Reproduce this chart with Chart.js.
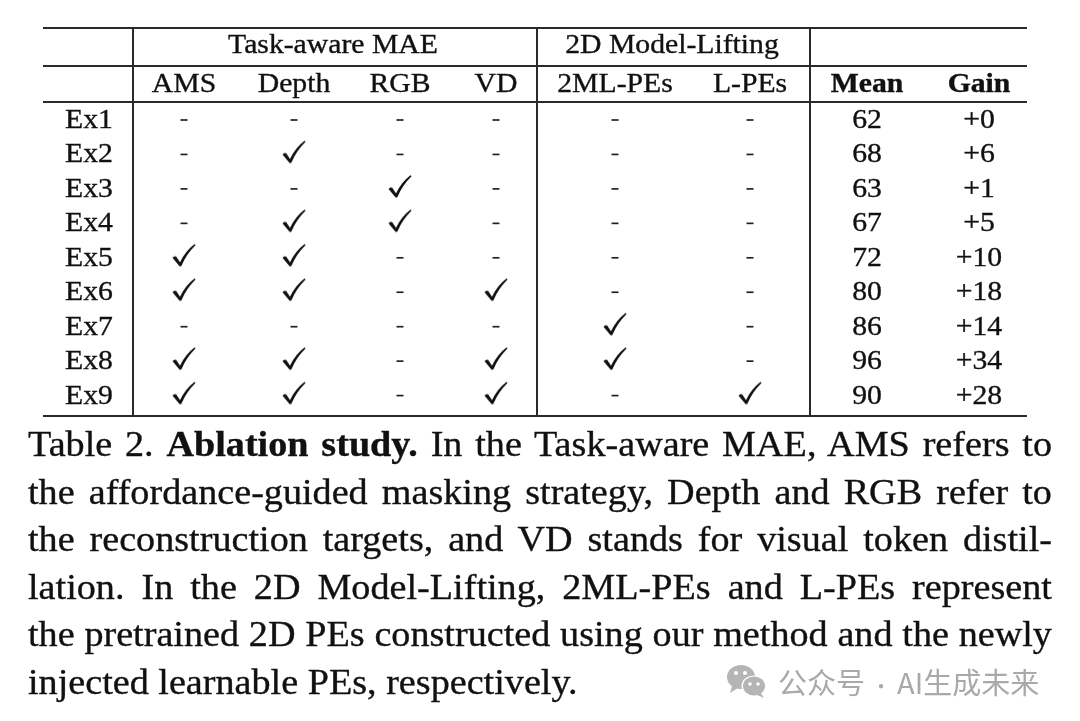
<!DOCTYPE html>
<html>
<head>
<meta charset="utf-8">
<script src="https://cdn.jsdelivr.net/npm/chart.js@4.4.0/dist/chart.umd.min.js"></script>
<style>
  html, body { margin: 0; padding: 0; background: #fff; }
  body { width: 1080px; height: 721px; position: relative; overflow: hidden; }
  #tabela { position: absolute; left: 0; top: 0; }
  .legenda {
    position: absolute; left: 28px; top: 421px; width: 966px;
    transform: scaleX(1.06); transform-origin: 0 0;
    font-family: "Liberation Serif", "Times New Roman", serif;
    font-size: 36px; line-height: 47.6px; color: #111;
    -webkit-text-stroke: 0.35px #111;
  }
  .legenda span { display: block; text-align: justify; text-align-last: justify; white-space: nowrap; }
  .legenda span.fim { text-align: left; text-align-last: left; }
  .marca {
    position: absolute; left: 726px; top: 661px; height: 40px;
    display: flex; align-items: center; gap: 10px;
    font-family: "Noto Sans CJK SC", sans-serif; font-size: 29px; color: #a9a9a9;
  }
  .marca small { font-size: 20px; padding: 0 6px; }
</style>
</head>
<body>
<canvas id="tabela" width="1080" height="430"></canvas>
<div class="legenda">
  <span>Table 2. <b>Ablation study.</b> In the Task-aware MAE, AMS refers to</span>
  <span>the affordance-guided masking strategy, Depth and RGB refer to</span>
  <span>the reconstruction targets, and VD stands for visual token distil-</span>
  <span>lation. In the 2D Model-Lifting, 2ML-PEs and L-PEs represent</span>
  <span>the pretrained 2D PEs constructed using our method and the newly</span>
  <span class="fim">injected learnable PEs, respectively.</span>
</div>
<div class="marca">
  <svg width="42" height="36" viewBox="0 0 42 36">
    <ellipse cx="15" cy="14" rx="14" ry="12" fill="#b5b5b5"/>
    <path d="M6 23 L4 30 L12 25 Z" fill="#b5b5b5"/>
    <circle cx="10" cy="10" r="2" fill="#fff"/>
    <circle cx="19" cy="10" r="2" fill="#fff"/>
    <ellipse cx="28" cy="23" rx="12.5" ry="10.5" fill="#fff"/>
    <ellipse cx="28" cy="23" rx="11" ry="9.5" fill="#b5b5b5"/>
    <path d="M35 30 L38 35 L31 32 Z" fill="#b5b5b5"/>
    <circle cx="24" cy="21" r="1.8" fill="#fff"/>
    <circle cx="32" cy="21" r="1.8" fill="#fff"/>
  </svg>
  <span>公众号<small>·</small>AI生成未来</span>
</div>
<script>
// dados da tabela
const experimentos = ['Ex1', 'Ex2', 'Ex3', 'Ex4', 'Ex5', 'Ex6', 'Ex7', 'Ex8', 'Ex9'];
const grupos = ['Task-aware MAE', '2D Model-Lifting'];
const colunas = ['AMS', 'Depth', 'RGB', 'VD', '2ML-PEs', 'L-PEs'];
const metricas = ['Mean', 'Gain'];
const ams   = [0, 0, 0, 0, 1, 1, 0, 1, 1];
const depth = [0, 1, 0, 1, 1, 1, 0, 1, 1];
const rgb   = [0, 0, 1, 1, 0, 0, 0, 0, 0];
const vd    = [0, 0, 0, 0, 0, 1, 0, 1, 1];
const mlPEs = [0, 0, 0, 0, 0, 0, 1, 1, 0];
const lPEs  = [0, 0, 0, 0, 0, 0, 0, 0, 1];
const mean  = [62, 68, 63, 67, 72, 80, 86, 96, 90];
const gain  = [0, 6, 1, 5, 10, 18, 14, 34, 28];
const marcadores = [ams, depth, rgb, vd, mlPEs, lPEs];

// layout (unidades das escalas)
const xRotulo = 89;
const xColunas = [184, 294, 400, 496, 615, 750];
const xMetricas = [867, 979];
const xGrupos = [333, 672];
const yGrupos = 53, yCabecalho = 92;
const yPrimeira = 128, passo = 34.45;
const regrasH = [28, 66, 102, 416];
const regrasV = [133, 537, 810];
const xInicio = 43, xFim = 1027;

function baseLinha(i) { return yPrimeira + i * passo; }

// desenho do check (estilo \checkmark)
function criarCheck() {
  const c = document.createElement('canvas');
  c.width = 26; c.height = 30;
  const g = c.getContext('2d');
  g.fillStyle = '#111';
  g.beginPath();
  g.moveTo(1.5, 15);
  g.quadraticCurveTo(3, 12.8, 5.2, 13.8);
  g.lineTo(9, 19.5);
  g.quadraticCurveTo(14, 8.5, 23.5, 1.2);
  g.lineTo(24.6, 2.2);
  g.quadraticCurveTo(15.5, 11, 10.2, 23.4);
  g.lineTo(8.6, 23.4);
  g.closePath();
  g.fill();
  return c;
}

document.addEventListener("DOMContentLoaded", function () {
  const canvas = document.getElementById("tabela");
  if (!canvas) return;
  const check = criarCheck();

  const datasets = marcadores.map(function (valores, c) {
    return {
      label: colunas[c],
      data: valores.map(function (v, i) { return { x: xColunas[c], y: baseLinha(i) - 8 }; }),
      pointStyle: function (ctx) { return valores[ctx.dataIndex] ? check : 'line'; },
      pointRadius: 3.5,
      borderWidth: 1.7,
      borderColor: '#222',
      backgroundColor: '#222'
    };
  });

  const textoTabela = {
    id: 'textoTabela',
    afterDatasetsDraw: function (chart) {
      const ctx = chart.ctx;
      const sx = chart.scales.x, sy = chart.scales.y;
      ctx.save();
      ctx.strokeStyle = '#2a2a2a';
      ctx.lineWidth = 2;
      regrasH.forEach(function (y) {
        ctx.beginPath();
        ctx.moveTo(sx.getPixelForValue(xInicio), sy.getPixelForValue(y));
        ctx.lineTo(sx.getPixelForValue(xFim), sy.getPixelForValue(y));
        ctx.stroke();
      });
      regrasV.forEach(function (x) {
        ctx.beginPath();
        ctx.moveTo(sx.getPixelForValue(x), sy.getPixelForValue(regrasH[0]));
        ctx.lineTo(sx.getPixelForValue(x), sy.getPixelForValue(regrasH[3]));
        ctx.stroke();
      });

      ctx.fillStyle = '#111';
      ctx.strokeStyle = '#111';
      ctx.lineWidth = 0.35;
      ctx.textAlign = 'center';
      ctx.textBaseline = 'alphabetic';
      function escrever(txt, x, y, negrito) {
        ctx.save();
        ctx.font = (negrito ? 'bold ' : '') + '27.5px "Liberation Serif", "Times New Roman", serif';
        ctx.translate(sx.getPixelForValue(x), sy.getPixelForValue(y));
        ctx.scale(1.08, 1);
        ctx.fillText(txt, 0, 0);
        ctx.strokeText(txt, 0, 0);
        ctx.restore();
      }
      grupos.forEach(function (g, k) { escrever(g, xGrupos[k], yGrupos); });
      colunas.forEach(function (c, k) { escrever(c, xColunas[k], yCabecalho); });
      metricas.forEach(function (m, k) { escrever(m, xMetricas[k], yCabecalho, true); });
      experimentos.forEach(function (e, i) {
        escrever(e, xRotulo, baseLinha(i));
        escrever(String(mean[i]), xMetricas[0], baseLinha(i));
        escrever('+' + gain[i], xMetricas[1], baseLinha(i));
      });
      ctx.restore();
    }
  };

  new Chart(canvas, {
    type: 'scatter',
    data: { datasets: datasets },
    options: {
      responsive: false,
      animation: false,
      events: [],
      layout: { padding: 0, autoPadding: false },
      plugins: { legend: { display: false }, tooltip: { enabled: false } },
      scales: {
        x: { type: 'linear', min: 0, max: 1080, display: false },
        y: { type: 'linear', min: 0, max: 430, reverse: true, display: false }
      }
    },
    plugins: [textoTabela]
  });
});
</script>
</body>
</html>
